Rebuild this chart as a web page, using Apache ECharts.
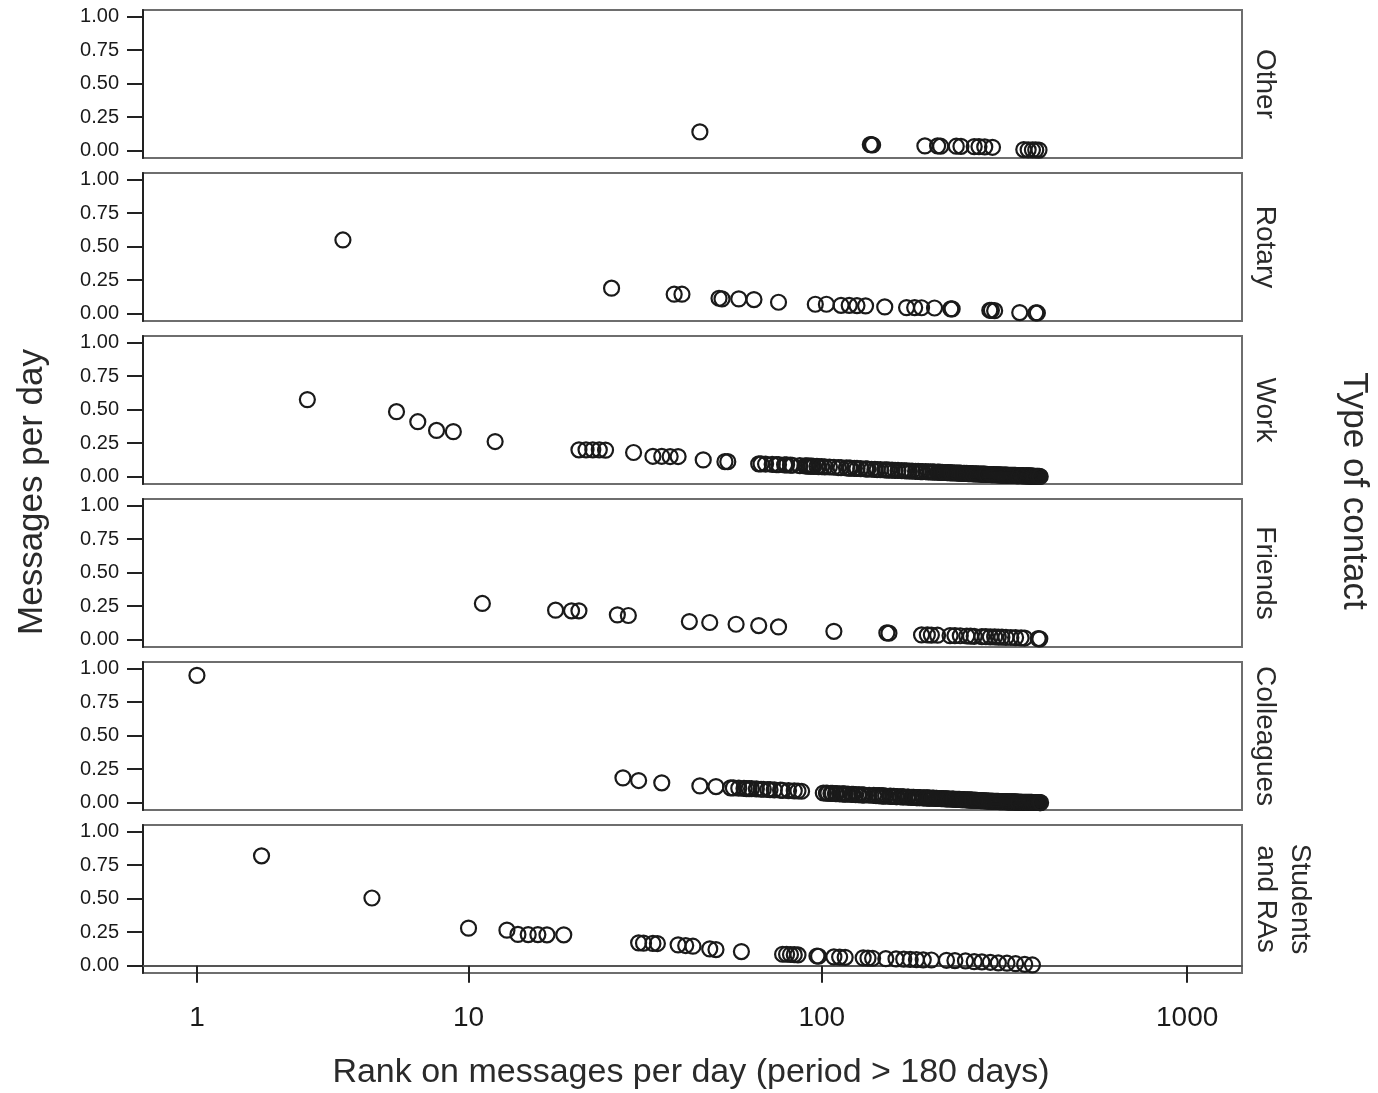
<!DOCTYPE html>
<html>
<head>
<meta charset="utf-8">
<title>Messages per day by rank and type of contact</title>
<script src="https://cdn.jsdelivr.net/npm/echarts@6.0.0/dist/echarts.min.js"></script>
<style>
  html, body { margin: 0; padding: 0; background: #fff; }
  #main { width: 1378px; height: 1093px; }
</style>
</head>
<body>
<div id="main"></div>
<script>
// panel labels, top to bottom
const contactTypes = ["Other", "Rotary", "Work", "Friends", "Colleagues", "Students\nand RAs"];

// [rank, messages per day]
const otherData = [
  [46, 0.14], [136, 0.045], [137, 0.045], [138, 0.042], [192, 0.035], [208, 0.035], [212, 0.033],
  [234, 0.033], [241, 0.032], [262, 0.03], [270, 0.03], [280, 0.028], [294, 0.025],
  [358, 0.008], [368, 0.006], [378, 0.005], [386, 0.005], [394, 0.004]
];

const rotaryData = [
  [4, 0.55], [26, 0.19], [39, 0.145], [41, 0.145], [52, 0.115], [53, 0.11], [59, 0.11], [65, 0.105],
  [76, 0.085], [96, 0.07], [103, 0.07], [113, 0.062], [119, 0.062], [125, 0.06], [132, 0.058],
  [149, 0.05], [171, 0.045], [180, 0.045], [188, 0.044], [204, 0.042], [226, 0.035], [228, 0.035],
  [289, 0.025], [292, 0.025], [298, 0.022], [349, 0.008], [386, 0.005], [390, 0.005]
];

const workData = [
  [3, 0.575], [6, 0.485], [7, 0.41], [8, 0.345], [9, 0.336], [12, 0.262],
  [21, 0.2], [22, 0.2], [23, 0.2], [24, 0.2], [25, 0.198], [30, 0.18],
  [34, 0.152], [36, 0.152], [38, 0.15], [40, 0.15], [47, 0.125], [54, 0.112], [55, 0.112],
  [67, 0.095], [68, 0.095], [70, 0.094], [73, 0.092], [75, 0.09], [76, 0.09], [79, 0.088], [80, 0.088],
  [82, 0.086], [83, 0.085], [87, 0.082], [90, 0.08], [91, 0.08], [92, 0.079], [93, 0.078], [94, 0.078],
  [95, 0.077], [97, 0.076], [98, 0.075], [100, 0.074], [102, 0.073], [105, 0.072], [108, 0.07],
  [111, 0.068], [113, 0.067], [117, 0.065], [119, 0.064], [120, 0.063], [123, 0.062], [125, 0.061],
  [128, 0.06], [132, 0.058], [133, 0.057], [134, 0.057], [137, 0.055], [140, 0.054], [142, 0.053],
  [145, 0.052], [149, 0.05], [151, 0.05], [153, 0.049], [156, 0.048], [159, 0.047], [162, 0.046],
  [166, 0.045], [169, 0.044], [171, 0.043], [174, 0.042], [177, 0.041], [181, 0.04], [184, 0.039],
  [187, 0.038], [189, 0.038], [193, 0.037], [196, 0.036], [199, 0.035], [202, 0.035], [204, 0.034],
  [208, 0.033], [210, 0.033], [212, 0.032], [214, 0.032], [216, 0.031], [218, 0.031], [221, 0.03],
  [223, 0.03], [225, 0.029], [226, 0.029], [228, 0.028], [231, 0.028], [234, 0.027], [236, 0.027],
  [238, 0.026], [240, 0.026], [242, 0.025], [245, 0.025], [247, 0.024], [250, 0.024], [252, 0.023],
  [254, 0.023], [256, 0.022], [259, 0.022], [261, 0.021], [264, 0.021], [266, 0.02], [269, 0.02],
  [272, 0.019], [274, 0.019], [276, 0.018], [278, 0.018], [280, 0.018], [282, 0.017], [284, 0.017],
  [288, 0.016], [289, 0.016], [291, 0.016], [292, 0.015], [294, 0.015], [296, 0.015], [298, 0.014],
  [300, 0.014], [302, 0.014], [304, 0.013], [306, 0.013], [308, 0.013], [310, 0.012], [312, 0.012],
  [314, 0.012], [316, 0.011], [318, 0.011], [320, 0.011], [322, 0.011], [324, 0.01], [326, 0.01],
  [328, 0.01], [330, 0.01], [332, 0.01], [334, 0.009], [336, 0.009], [338, 0.009], [340, 0.009],
  [342, 0.008], [344, 0.008], [346, 0.008], [348, 0.008], [352, 0.007], [354, 0.007], [356, 0.007],
  [358, 0.006], [362, 0.006], [364, 0.006], [366, 0.005], [368, 0.005], [370, 0.005], [372, 0.005],
  [374, 0.004], [376, 0.004], [378, 0.004], [380, 0.004], [382, 0.003], [385, 0.003], [388, 0.003],
  [390, 0.002], [392, 0.002], [395, 0.002], [397, 0.001]
];

const friendsData = [
  [11, 0.27], [18, 0.22], [20, 0.215], [21, 0.215], [27, 0.185], [29, 0.18], [43, 0.135], [49, 0.128],
  [58, 0.115], [67, 0.105], [76, 0.095], [108, 0.062], [151, 0.05], [153, 0.048],
  [188, 0.035], [195, 0.035], [200, 0.034], [208, 0.033], [225, 0.03], [232, 0.03], [240, 0.029],
  [250, 0.027], [256, 0.026], [262, 0.025], [275, 0.023], [282, 0.022], [290, 0.021], [298, 0.02],
  [305, 0.019], [312, 0.018], [320, 0.017], [330, 0.016], [340, 0.015], [352, 0.013], [360, 0.012],
  [392, 0.008], [396, 0.006]
];

const colleaguesData = [
  [1, 0.95], [28, 0.185], [31, 0.165], [36, 0.148], [46, 0.125], [51, 0.12],
  [56, 0.11], [57, 0.11], [59, 0.108], [61, 0.106], [62, 0.105], [63, 0.105], [64, 0.104], [66, 0.102],
  [68, 0.1], [69, 0.1], [71, 0.098], [72, 0.097], [74, 0.095], [77, 0.093], [78, 0.092], [81, 0.09],
  [84, 0.088], [86, 0.087], [88, 0.085],
  [101, 0.072], [103, 0.071], [104, 0.07], [106, 0.069], [107, 0.069], [109, 0.068], [110, 0.067],
  [112, 0.066], [114, 0.065], [115, 0.065], [116, 0.064], [118, 0.063], [121, 0.062], [122, 0.061],
  [124, 0.06], [126, 0.059], [127, 0.059], [129, 0.058], [130, 0.057], [131, 0.057], [135, 0.055],
  [139, 0.054], [141, 0.053], [143, 0.052], [144, 0.052], [146, 0.051], [147, 0.05], [148, 0.05],
  [150, 0.049], [154, 0.048], [155, 0.047], [157, 0.047], [158, 0.046], [160, 0.045], [161, 0.045],
  [164, 0.044], [165, 0.044], [167, 0.043], [168, 0.043], [172, 0.042], [173, 0.041], [176, 0.04],
  [178, 0.04], [179, 0.039], [182, 0.038], [183, 0.038], [185, 0.037], [186, 0.037], [190, 0.036],
  [191, 0.036], [194, 0.035], [195, 0.035], [197, 0.034], [198, 0.034], [201, 0.033], [203, 0.033],
  [206, 0.032], [207, 0.032], [209, 0.031], [211, 0.031], [213, 0.03], [215, 0.03], [217, 0.029],
  [219, 0.029], [220, 0.028], [222, 0.028], [224, 0.027], [227, 0.027], [229, 0.026], [230, 0.026],
  [233, 0.025], [235, 0.025], [237, 0.024], [239, 0.024], [241, 0.023], [243, 0.023], [244, 0.022],
  [246, 0.022], [249, 0.021], [251, 0.021], [253, 0.02], [255, 0.02], [257, 0.019], [258, 0.019],
  [260, 0.018], [263, 0.018], [265, 0.017], [267, 0.017], [268, 0.016], [271, 0.016], [273, 0.015],
  [275, 0.015], [277, 0.014], [279, 0.014], [281, 0.013], [283, 0.013], [286, 0.012], [287, 0.012],
  [290, 0.011], [293, 0.011], [295, 0.01], [297, 0.01], [299, 0.01], [301, 0.009], [303, 0.009],
  [305, 0.009], [307, 0.008], [309, 0.008], [311, 0.008], [313, 0.008], [315, 0.007], [317, 0.007],
  [319, 0.007], [321, 0.007], [323, 0.006], [325, 0.006], [327, 0.006], [329, 0.006], [331, 0.005],
  [333, 0.005], [335, 0.005], [337, 0.005], [339, 0.005], [341, 0.004], [343, 0.004], [345, 0.004],
  [347, 0.004], [351, 0.004], [353, 0.003], [355, 0.003], [357, 0.003], [359, 0.003], [361, 0.003],
  [363, 0.003], [365, 0.002], [367, 0.002], [369, 0.002], [371, 0.002], [373, 0.002], [375, 0.002],
  [377, 0.002], [379, 0.001], [381, 0.001], [383, 0.001], [384, 0.001], [387, 0.001], [389, 0.001],
  [391, 0.001], [393, 0.001], [394, 0.001], [396, 0.0], [398, 0.0]
];

const studentsData = [
  [2, 0.82], [5, 0.505], [10, 0.28], [13, 0.265], [14, 0.233], [15, 0.232], [16, 0.232], [17, 0.23],
  [19, 0.23], [31, 0.17], [32, 0.168], [34, 0.166], [35, 0.165], [40, 0.155], [42, 0.15], [44, 0.145],
  [49, 0.125], [51, 0.12], [60, 0.105], [78, 0.085], [80, 0.085], [82, 0.083], [84, 0.082], [86, 0.08],
  [97, 0.072], [98, 0.07], [108, 0.065], [112, 0.064], [116, 0.062], [130, 0.058], [134, 0.056],
  [138, 0.055], [150, 0.052], [160, 0.05], [168, 0.048], [175, 0.046], [182, 0.045], [190, 0.043],
  [200, 0.042], [220, 0.04], [232, 0.038], [248, 0.035], [262, 0.03], [275, 0.028], [290, 0.025],
  [305, 0.02], [322, 0.018], [340, 0.015], [360, 0.01], [378, 0.005]
];

const panelData = [otherData, rotaryData, workData, friendsData, colleaguesData, studentsData];

const xTickRanks = [1, 10, 100, 1000];
const yTicks = [0, 0.25, 0.5, 0.75, 1];

// the original x axis is log(rank + 1), that is why 1..10 is narrower than 10..100
const rankToAxis = r => Math.log10(r + 1);

const FONT = "Liberation Sans, Arial, sans-serif";
const panelTop = 10;
const panelStep = 163;
const panelHeight = 148;
const lastPanel = panelData.length - 1;

const chartDom = document.getElementById("main");
const chartInstance = echarts.init(chartDom, null, { renderer: "canvas" });

const grids = [];
const xAxes = [];
const yAxes = [];
const series = [];
const graphics = [];

panelData.forEach((data, i) => {
  const isLast = i === lastPanel;
  grids.push({
    left: 143,
    right: 136,
    top: panelTop + panelStep * i,
    height: panelHeight,
    show: true,
    borderColor: "#6e6e6e",
    borderWidth: 2,
    backgroundColor: "#fff",
    outerBoundsMode: "none",
  });
  xAxes.push({
    type: "value",
    gridIndex: i,
    min: 0.154,
    max: 3.15,
    splitLine: { show: false },
    axisLine: { show: isLast, lineStyle: { color: "#555", width: 2 } },
    axisTick: {
      show: isLast,
      customValues: xTickRanks.map(rankToAxis),
      length: 17,
      lineStyle: { color: "#222", width: 2 },
    },
    axisLabel: {
      show: isLast,
      customValues: xTickRanks.map(rankToAxis),
      formatter: v => String(Math.round(Math.pow(10, v) - 1)),
      margin: 31,
      fontSize: 28,
      fontFamily: FONT,
      color: "#1a1a1a",
    },
  });
  yAxes.push({
    type: "value",
    gridIndex: i,
    min: -0.055,
    max: 1.05,
    splitLine: { show: false },
    axisLine: { show: true, lineStyle: { color: "#222", width: 2 } },
    axisTick: {
      show: true,
      customValues: yTicks,
      length: 16,
      lineStyle: { color: "#222", width: 2 },
    },
    axisLabel: {
      customValues: yTicks,
      formatter: v => v.toFixed(2),
      margin: 24,
      fontSize: 20,
      fontFamily: FONT,
      color: "#1a1a1a",
    },
  });
  series.push({
    name: contactTypes[i],
    type: "scatter",
    xAxisIndex: i,
    yAxisIndex: i,
    symbol: "circle",
    symbolSize: 15,
    itemStyle: {
      color: "rgba(0,0,0,0)",
      borderColor: "#1a1a1a",
      borderWidth: 2.2,
      opacity: 1,
    },
    data: data.map(d => [rankToAxis(d[0]), d[1]]),
  });
  graphics.push({
    type: "text",
    x: isLast ? 1283 : 1265,
    y: panelTop + panelStep * i + panelHeight / 2,
    rotation: -Math.PI / 2,
    style: {
      text: contactTypes[i],
      fontSize: 28,
      fontFamily: FONT,
      fill: "#2a2a2a",
      align: "center",
      verticalAlign: "middle",
      lineHeight: 34,
    },
  });
});

// axis titles
graphics.push({
  type: "text",
  x: 32,
  y: 492,
  rotation: Math.PI / 2,
  style: {
    text: "Messages per day",
    fontSize: 35,
    fontFamily: FONT,
    fill: "#2a2a2a",
    align: "center",
    verticalAlign: "middle",
  },
});
graphics.push({
  type: "text",
  x: 1354,
  y: 491,
  rotation: -Math.PI / 2,
  style: {
    text: "Type of contact",
    fontSize: 35,
    fontFamily: FONT,
    fill: "#2a2a2a",
    align: "center",
    verticalAlign: "middle",
  },
});
graphics.push({
  type: "text",
  x: 691,
  y: 1073,
  style: {
    text: "Rank on messages per day (period > 180 days)",
    fontSize: 34,
    fontFamily: FONT,
    fill: "#2a2a2a",
    align: "center",
    verticalAlign: "middle",
  },
});

const option = {
  animation: false,
  backgroundColor: "#fff",
  grid: grids,
  xAxis: xAxes,
  yAxis: yAxes,
  series: series,
  graphic: graphics,
};

chartInstance.setOption(option);
</script>
</body>
</html>
